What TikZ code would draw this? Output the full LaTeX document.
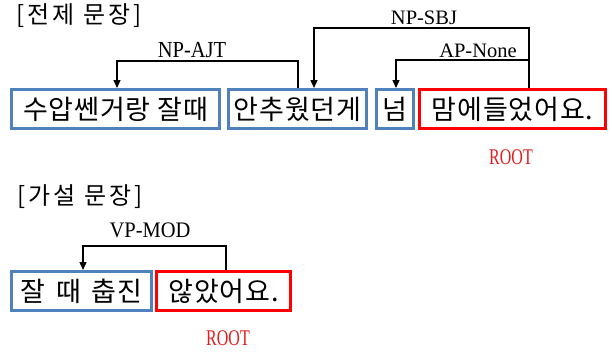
\documentclass[tikz,border=0pt]{standalone}
\usepackage{fontspec}
\setmainfont{Liberation Serif}
\newfontfamily\kr{Noto Sans CJK KR}[LetterSpace=3]
\newfontfamily\krwide{Noto Sans CJK KR}[LetterSpace=12]
\usetikzlibrary{arrows.meta}
\definecolor{boxblue}{RGB}{79,129,189}
\definecolor{boxred}{RGB}{255,0,0}
\definecolor{rootred}{RGB}{225,30,30}
\tikzset{
  x=1pt, y=-1pt,
  word/.style={draw=boxblue, line width=3pt, minimum height=39pt, inner sep=0pt,
    font=\kr\fontsize{27}{27}\selectfont},
  head/.style={word, draw=boxred},
  title/.style={inner sep=0pt, font=\krwide\fontsize{24}{24}\selectfont},
  rel/.style={inner sep=0pt, font=\fontsize{20.5}{20.5}\selectfont},
  rootlbl/.style={inner sep=0pt, text=rootred, font=\fontsize{16}{16}\selectfont},
  dep/.style={line width=1.3pt, -{Triangle[length=8pt,width=7pt]}},
}
\newcommand{\tallrel}[2]{\scalebox{1}[#1]{#2}}
\begin{document}
\begin{tikzpicture}
\useasboundingbox (0,0) rectangle (612,351);

% ---- premise sentence ----
\node[title] (t1) at (79,16) {[전제 문장]};

\node[word, minimum width=208pt] (b1) at (115.5,109) {수압쎈거랑 잘때};
\node[word, minimum width=138pt] (b2) at (297.5,109) {안추웠던게};
\node[word, minimum width=37pt]  (b3) at (395,109)   {넘};
\node[head, minimum width=186pt] (b4) at (512.5,109) {맘에들었어요.};

\node[rel] (lajt) at (192,50) {\tallrel{1.12}{NP-AJT}};
\node[rel] (lsbj) at (424,18) {\tallrel{1.0}{NP-SBJ}};
\node[rel] (lap)  at (478,51) {\tallrel{1.0}{AP-None}};
\node[rootlbl] (r1) at (511,157) {\tallrel{1.4}{ROOT}};

\coordinate (ajtR) at (298,61);
\coordinate (ajtL) at (117,61);
\coordinate (sbjR) at (529,28);
\coordinate (sbjL) at (314,28);
\coordinate (apR)  at (529,60);
\coordinate (apL)  at (396,60);

\draw[dep] (b2.north -| ajtR) -- (ajtR) -- (ajtL) -- (b1.north -| ajtL);
\draw[dep] (b4.north -| sbjR) -- (sbjR) -- (sbjL) -- (b2.north -| sbjL);
\draw[dep] (apR) -- (apL) -- (b3.north -| apL);

% ---- hypothesis sentence ----
\node[title] (t2) at (80,197) {[가설 문장]};

\node[word, minimum width=140pt] (c1) at (81.5,291)  {잘\hspace{0.4em}때\hspace{0.4em}춥진};
\node[head, minimum width=134pt] (c2) at (223.5,291) {않았어요.};

\node[rel] (lmod) at (150,230) {\tallrel{1.08}{VP-MOD}};
\node[rootlbl] (r2) at (228,338) {\tallrel{1.4}{ROOT}};

\coordinate (modR) at (226,246);
\coordinate (modL) at (83,246);
\draw[dep] (c2.north -| modR) -- (modR) -- (modL) -- (c1.north -| modL);
\end{tikzpicture}
\end{document}
